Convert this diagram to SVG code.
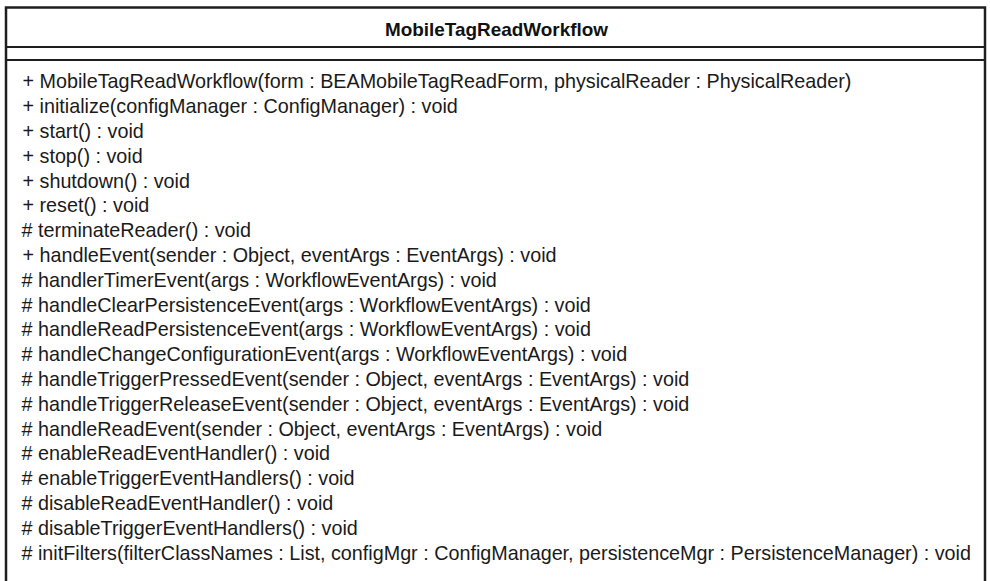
<svg xmlns="http://www.w3.org/2000/svg" width="990" height="581" viewBox="0 0 990 581">
  <style>
    .frame { fill: #ffffff; stroke: #1e1e1e; stroke-width: 2.5; }
    .sep { stroke: #1e1e1e; stroke-width: 2.2; }
    .title { font-family: "Liberation Sans", Arial, sans-serif; font-weight: bold; font-size: 18.5px; fill: #111; text-anchor: middle; }
    .op { font-family: "Liberation Sans", Arial, sans-serif; font-size: 19.75px; fill: #1a1a1a; }
  </style>
  <rect width="990" height="581" fill="#ffffff"/>
  <g id="class-MobileTagReadWorkflow">
    <!-- class box runs past the lower edge of the canvas -->
    <rect class="frame" x="6" y="7.5" width="979" height="600"/>
    <line class="sep" x1="6" y1="47" x2="985" y2="47"/>
    <line class="sep" x1="6" y1="60" x2="985" y2="60"/>
    <text class="title" x="496.5" y="35.5" textLength="223" lengthAdjust="spacingAndGlyphs">MobileTagReadWorkflow</text>
    <g class="op">
      <text x="22.5" y="88.3">+ MobileTagReadWorkflow(form : BEAMobileTagReadForm, physicalReader : PhysicalReader)</text>
      <text x="22.5" y="113.1">+ initialize(configManager : ConfigManager) : void</text>
      <text x="22.5" y="137.9">+ start() : void</text>
      <text x="22.5" y="162.7">+ stop() : void</text>
      <text x="22.5" y="187.5">+ shutdown() : void</text>
      <text x="22.5" y="212.3">+ reset() : void</text>
      <text x="21.5" y="237.1"># terminateReader() : void</text>
      <text x="22.5" y="261.9">+ handleEvent(sender : Object, eventArgs : EventArgs) : void</text>
      <text x="21.5" y="286.7"># handlerTimerEvent(args : WorkflowEventArgs) : void</text>
      <text x="21.5" y="311.5"># handleClearPersistenceEvent(args : WorkflowEventArgs) : void</text>
      <text x="21.5" y="336.3"># handleReadPersistenceEvent(args : WorkflowEventArgs) : void</text>
      <text x="21.5" y="361.1"># handleChangeConfigurationEvent(args : WorkflowEventArgs) : void</text>
      <text x="21.5" y="385.9"># handleTriggerPressedEvent(sender : Object, eventArgs : EventArgs) : void</text>
      <text x="21.5" y="410.7"># handleTriggerReleaseEvent(sender : Object, eventArgs : EventArgs) : void</text>
      <text x="21.5" y="435.5"># handleReadEvent(sender : Object, eventArgs : EventArgs) : void</text>
      <text x="21.5" y="460.3"># enableReadEventHandler() : void</text>
      <text x="21.5" y="485.1"># enableTriggerEventHandlers() : void</text>
      <text x="21.5" y="509.9"># disableReadEventHandler() : void</text>
      <text x="21.5" y="534.7"># disableTriggerEventHandlers() : void</text>
      <text x="21.5" y="559.5"># initFilters(filterClassNames : List, configMgr : ConfigManager, persistenceMgr : PersistenceManager) : void</text>
    </g>
  </g>
  <g id="connectors"/>
</svg>
